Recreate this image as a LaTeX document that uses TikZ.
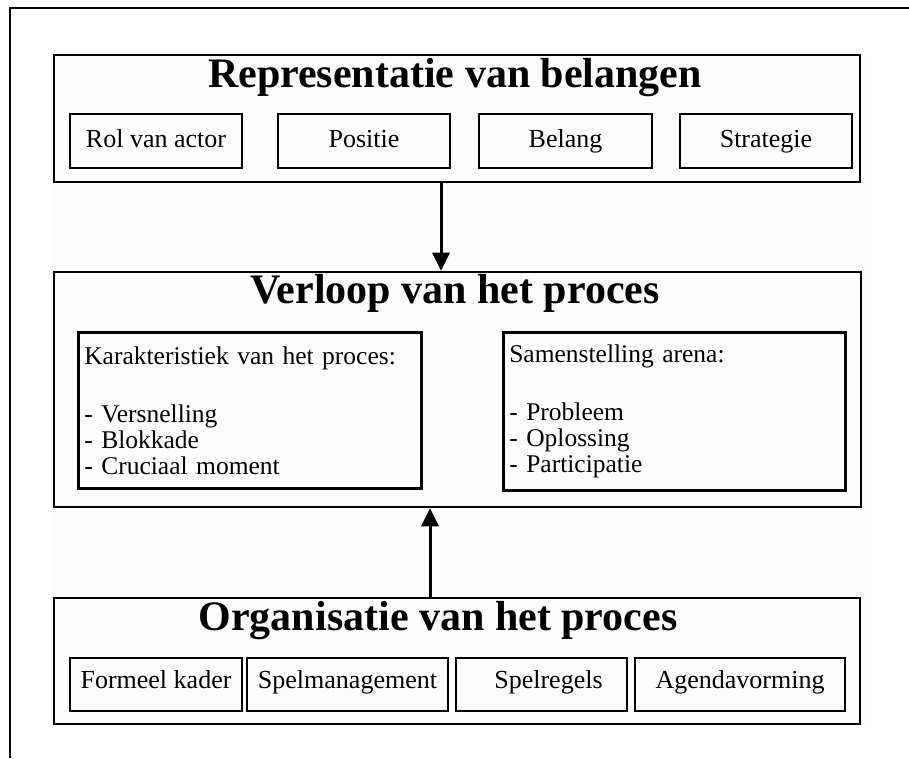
\documentclass[tikz,border=0pt]{standalone}
\usepackage{fontspec}
\setmainfont{Liberation Serif}
\usetikzlibrary{arrows.meta}
\begin{document}
\begin{tikzpicture}[x=1pt,y=-1pt,
  outerbox/.style={draw, line width=2.6pt, inner sep=0pt},
  itembox/.style={draw, line width=2.6pt, inner sep=0pt,
    minimum height=54pt, text height=18pt, text depth=6pt,
    font=\fontsize{26}{30}\selectfont},
  lowitem/.style={itembox, minimum height=53pt, text height=16pt, text depth=9pt},
  heading/.style={font=\fontsize{42}{48}\selectfont\bfseries,
    inner sep=0pt, anchor=base},
  listbox/.style={draw, line width=2.6pt, anchor=north west, align=left,
    inner xsep=6pt, inner ysep=0pt,
    font=\fontsize{25.5}{26}\selectfont},
  flow/.style={line width=3pt, -{Triangle[width=17pt,length=18pt]}}]

\useasboundingbox (0,0) rectangle (909,758);
% page frame and faint panel
\fill[white!99.4!black] (54,55) rectangle (868,727);
\draw[line width=1.5pt] (10,758) -- (10,8) -- (909,8);

% ---- Representatie van belangen ----
\node[outerbox, minimum width=806pt, minimum height=127pt] (rep) at (457,118.5) {};
\node[heading] (repT) at (455,87) {Representatie van belangen};
\node[itembox, minimum width=172pt] (rol) at (156,141) {Rol van actor};
\node[itembox, minimum width=172pt] (pos) at (364,141) {Positie};
\node[itembox, minimum width=173pt] (bel) at (565.5,141) {Belang};
\node[itembox, minimum width=172pt] (str) at (766,141) {Strategie};

% ---- Verloop van het proces ----
\node[outerbox, minimum width=807pt, minimum height=235pt] (proc) at (457.5,389.5) {};
\node[heading] (procT) at (455,303) {Verloop van het proces};
\node[listbox, text width=331pt, minimum height=156pt] (kar) at (77,331)
  {Karakteristiek van het proces:\\[32pt]- Versnelling\\- Blokkade\\- Cruciaal moment};
\node[listbox, text width=330pt, minimum height=158pt] (sam) at (502,331)
  {Samenstelling arena:\\[32pt]- Probleem\\- Oplossing\\- Participatie};

% ---- Organisatie van het proces ----
\node[outerbox, minimum width=806pt, minimum height=126pt] (org) at (457,661) {};
\node[heading] (orgT) at (438,630) {Organisatie van het proces};
\node[lowitem, minimum width=172pt] (for) at (156,684.5) {Formeel kader};
\node[lowitem, minimum width=201pt] (spm) at (347.5,684.5) {Spelmanagement};
\node[lowitem, minimum width=171pt] (spr) at (541.5,684.5) {\hspace*{14pt}Spelregels};
\node[lowitem, minimum width=210pt] (age) at (740,684.5) {Agendavorming};

% ---- connectors ----
\coordinate (downx) at (441,0);
\coordinate (upx) at (430,0);
\draw[flow] (downx |- rep.south) -- (downx |- proc.north);
\draw[flow] (upx |- org.north) -- (upx |- proc.south);
\end{tikzpicture}
\end{document}
